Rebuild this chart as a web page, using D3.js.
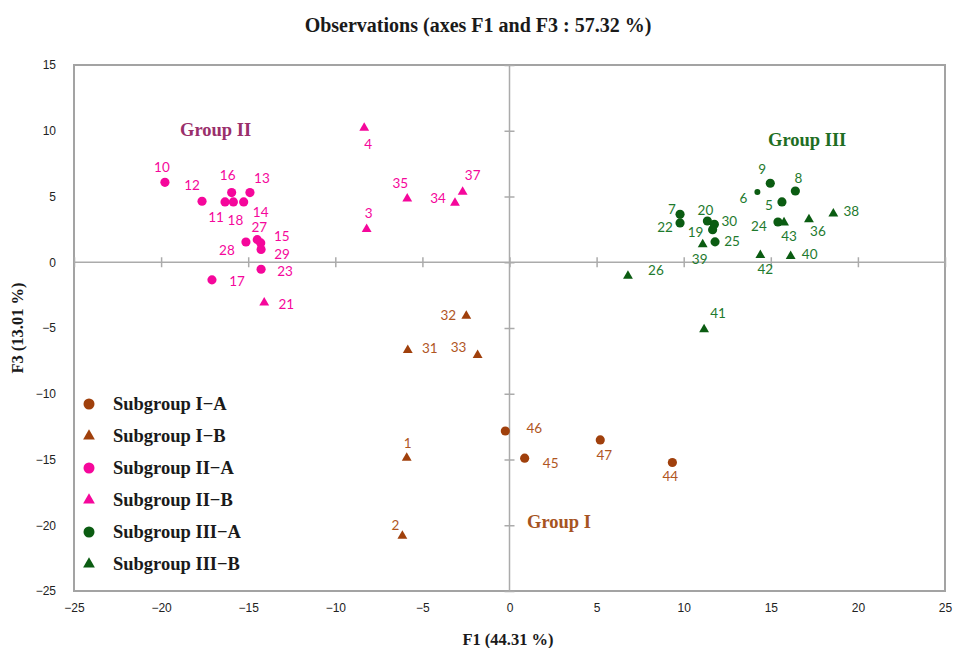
<!DOCTYPE html>
<html>
<head>
<meta charset="utf-8">
<script src="https://cdn.jsdelivr.net/npm/d3@7.9.0/dist/d3.min.js"></script>
<style>
  body { margin: 0; background: #fff; }
  svg { display: block; }
  .tick text { font-family: "Liberation Sans Narrow", "Liberation Sans", sans-serif; font-size: 12px; fill: #222; }
  .serif { font-family: "Liberation Serif", "Times New Roman", serif; font-weight: bold; }
  .pt-label { font-family: Lato, "Open Sans", sans-serif; font-size: 13.5px; }
</style>
</head>
<body>
<div id="chart"></div>
<script>
// [id, F1, F3]
const subgroupIA = [[44, 9.35, -15.23], [45, 0.87, -14.9], [46, -0.24, -12.83], [47, 5.21, -13.51]];
const subgroupIB = [[1, -5.9, -14.88], [2, -6.15, -20.81], [31, -5.84, -6.69], [32, -2.48, -4.08], [33, -1.83, -7.07]];
const subgroupIIA = [
  [10, -19.78, 6.08], [11, -16.33, 4.59], [12, -17.65, 4.64], [13, -14.9, 5.3], [14, -15.26, 4.59],
  [15, -14.28, 1.47], [16, -15.95, 5.3], [17, -17.08, -1.34], [18, -15.85, 4.59], [23, -14.26, -0.53],
  [27, -14.48, 1.72], [28, -15.13, 1.54], [29, -14.26, 0.97]
];
const subgroupIIB = [[3, -8.2, 2.51], [4, -8.34, 10.21], [21, -14.08, -3.07], [34, -3.13, 4.51], [35, -5.87, 4.84], [37, -2.69, 5.35]];
const subgroupIIIA = [
  [5, 15.64, 4.59], [6, 14.23, 5.35], [7, 9.79, 3.65], [8, 16.41, 5.42], [9, 14.97, 6.01], [19, 11.66, 2.48],
  [20, 11.36, 3.14], [22, 9.79, 2.99], [24, 15.41, 3.06], [25, 11.8, 1.55], [30, 11.76, 2.89]
];
const subgroupIIIB = [[26, 6.8, -1.04], [36, 17.19, 3.25], [38, 18.59, 3.7], [39, 11.09, 1.35], [40, 16.14, 0.46], [41, 11.17, -5.1], [42, 14.4, 0.53], [43, 15.76, 3.02]];

const legendNames = ['Subgroup I\u2212A', 'Subgroup I\u2212B', 'Subgroup II\u2212A', 'Subgroup II\u2212B', 'Subgroup III\u2212A', 'Subgroup III\u2212B'];
const groupNames = ['Group I', 'Group II', 'Group III'];
const xTicks = d3.range(-25, 26, 5);
const yTicks = d3.range(-25, 16, 5);

// label offsets in px from the marker (placement only)
const labelOffsets = {
  10: [-3, -15], 12: [-10, -16], 16: [-4, -17], 13: [12, -14], 11: [-9, 15], 18: [2, 18], 14: [17, 10],
  27: [2, -12], 15: [21, -7], 28: [-19, 8], 29: [21, 5], 23: [24, 2], 17: [25, 1],
  21: [22, 2], 4: [4, 16], 35: [-7, -15], 34: [-17, -5], 37: [10, -17], 3: [2, -16],
  9: [-8, -14], 8: [3, -13], 6: [-14, 6], 5: [-13, 3], 7: [-8, -5], 22: [-15, 4], 20: [-2, -11],
  30: [15, -3], 19: [-17, 3], 25: [17, -1], 39: [-3, 15], 24: [-19, 4], 43: [5, 14], 36: [9, 12],
  38: [18, -2], 42: [5, 14], 40: [19, -2], 26: [28, -6], 41: [14, -16],
  32: [-18, -1], 31: [22, -2], 33: [-19, -8], 1: [1, -15], 2: [-7, -11],
  46: [29, -3], 45: [26, 5], 47: [4, 15], 44: [-2, 14]
};

const brown = '#A0400C', brownText = '#B0561F';
const pink = '#F5079B';
const green = '#0B5C12', greenText = '#1E7A2E';

const series = [
  { data: subgroupIA, shape: 'circle', color: brown, text: brownText },
  { data: subgroupIB, shape: 'triangle', color: brown, text: brownText },
  { data: subgroupIIA, shape: 'circle', color: pink, text: pink },
  { data: subgroupIIB, shape: 'triangle', color: pink, text: pink },
  { data: subgroupIIIA, shape: 'circle', color: green, text: greenText },
  { data: subgroupIIIB, shape: 'triangle', color: green, text: greenText }
];

const width = 953, height = 648;
const plot = { left: 74, right: 945, top: 65, bottom: 591 };

const svg = d3.select('#chart').append('svg')
  .attr('width', width).attr('height', height);

const x = d3.scaleLinear().domain([-25, 25]).range([plot.left, plot.right]);
const y = d3.scaleLinear().domain([-25, 15]).range([plot.bottom, plot.top]);

// plot border
svg.append('rect')
  .attr('x', plot.left).attr('y', plot.top)
  .attr('width', plot.right - plot.left).attr('height', plot.bottom - plot.top)
  .attr('fill', 'none').attr('stroke', '#a3a3a3').attr('stroke-width', 2);

// tick labels round the frame
svg.append('g')
  .attr('transform', `translate(0,${plot.bottom})`)
  .call(d3.axisBottom(x).tickValues(xTicks).tickSize(0).tickPadding(12))
  .call((g) => g.select('.domain').remove());

svg.append('g')
  .attr('transform', `translate(${plot.left},0)`)
  .call(d3.axisLeft(y).tickValues(yTicks).tickSize(0).tickPadding(18))
  .call((g) => g.select('.domain').remove());

// crossing axes at zero
const axisColor = '#ababab';
svg.append('line')
  .attr('x1', plot.left).attr('x2', plot.right)
  .attr('y1', y(0)).attr('y2', y(0))
  .attr('stroke', axisColor).attr('stroke-width', 1.5);
svg.append('line')
  .attr('x1', x(0)).attr('x2', x(0))
  .attr('y1', plot.top).attr('y2', plot.bottom)
  .attr('stroke', axisColor).attr('stroke-width', 1.5);

svg.append('g')
  .attr('transform', `translate(0,${y(0) - 5})`)
  .call(d3.axisBottom(x).tickValues(xTicks).tickSize(10).tickFormat('').tickSizeOuter(0))
  .call((g) => g.select('.domain').remove())
  .call((g) => g.selectAll('line').attr('stroke', axisColor).attr('stroke-width', 1.5));

svg.append('g')
  .attr('transform', `translate(${x(0) + 5},0)`)
  .call(d3.axisLeft(y).tickValues(yTicks).tickSize(10).tickFormat('').tickSizeOuter(0))
  .call((g) => g.select('.domain').remove())
  .call((g) => g.selectAll('line').attr('stroke', axisColor).attr('stroke-width', 1.5));

// markers
const circleSym = d3.symbol().type(d3.symbolCircle);
const triSym = d3.symbol().type(d3.symbolTriangle).size(42);

series.forEach((s) => {
  const g = svg.append('g');
  g.selectAll('path').data(s.data).join('path')
    .attr('transform', (d) => `translate(${x(d[1])},${y(d[2])})`)
    .attr('d', (d) => s.shape === 'circle' ? circleSym.size(d[0] === 6 ? 28 : 66)() : triSym())
    .attr('fill', s.color);

  g.selectAll('text').data(s.data).join('text')
    .attr('class', 'pt-label')
    .attr('x', (d) => x(d[1]) + (labelOffsets[d[0]] || [12, 0])[0])
    .attr('y', (d) => y(d[2]) + (labelOffsets[d[0]] || [12, 0])[1])
    .attr('text-anchor', 'middle')
    .attr('dy', '0.35em')
    .attr('fill', s.text)
    .text((d) => d[0]);
});

// group names
const groupPos = [[527, 528, '#A6541F'], [180, 136, '#9A2F6B'], [768, 146, '#1E6E22']];
svg.append('g').selectAll('text').data(groupNames).join('text')
  .attr('class', 'serif')
  .attr('x', (d, i) => groupPos[i][0])
  .attr('y', (d, i) => groupPos[i][1])
  .attr('font-size', 18.5)
  .attr('fill', (d, i) => groupPos[i][2])
  .text((d) => d);

// legend
const legendY = d3.scalePoint().domain(legendNames).range([404, 564]);
const legend = svg.append('g');
legendNames.forEach((name, i) => {
  const s = series[i];
  const cy = legendY(name);
  legend.append('path')
    .attr('transform', `translate(89,${cy})`)
    .attr('d', s.shape === 'circle' ? d3.symbol().type(d3.symbolCircle).size(95)() : d3.symbol().type(d3.symbolTriangle).size(60)())
    .attr('fill', s.color);
  legend.append('text')
    .attr('class', 'serif')
    .attr('x', 113).attr('y', cy).attr('dy', '0.35em')
    .attr('font-size', 18.5).attr('fill', '#1a1a1a')
    .text(name);
});

// titles
svg.append('text').attr('class', 'serif')
  .attr('x', 478).attr('y', 32).attr('text-anchor', 'middle')
  .attr('font-size', 20).attr('fill', '#1a1a1a')
  .text('Observations (axes F1 and F3 : 57.32 %)');

svg.append('text').attr('class', 'serif')
  .attr('x', 508).attr('y', 645).attr('text-anchor', 'middle')
  .attr('font-size', 16.5).attr('fill', '#1a1a1a')
  .text('F1 (44.31 %)');

svg.append('text').attr('class', 'serif')
  .attr('transform', 'translate(23,328) rotate(-90)').attr('text-anchor', 'middle')
  .attr('font-size', 16.5).attr('fill', '#1a1a1a')
  .text('F3 (13.01 %)');
</script>
</body>
</html>
